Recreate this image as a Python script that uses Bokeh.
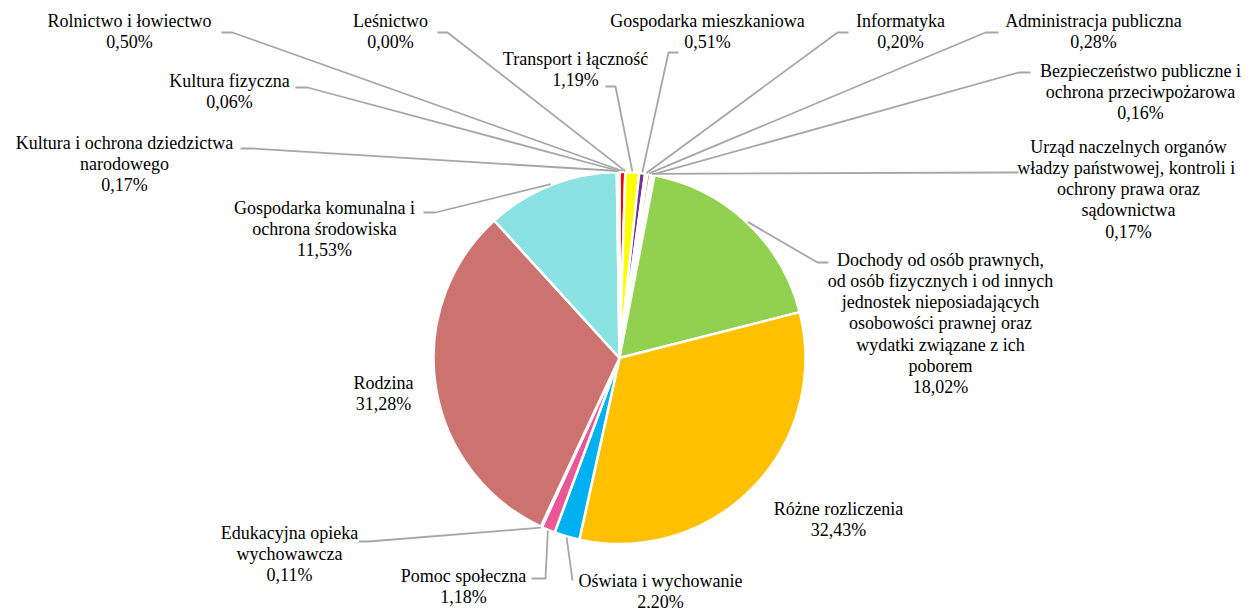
import math
from bokeh.plotting import figure
from bokeh.models import ColumnDataSource, Range1d
from bokeh.embed import file_html
from bokeh.resources import INLINE
from bokeh.core.properties import value

# ---------------- data ----------------
categories = [
    "Rolnictwo i łowiectwo",
    "Leśnictwo",
    "Transport i łączność",
    "Gospodarka mieszkaniowa",
    "Informatyka",
    "Administracja publiczna",
    "Urząd naczelnych organów\nwładzy państwowej,  kontroli i\nochrony prawa oraz\nsądownictwa",
    "Bezpieczeństwo publiczne i\nochrona przeciwpożarowa",
    "Dochody od osób prawnych,\nod osób fizycznych i od innych\njednostek nieposiadających\nosobowości prawnej oraz\nwydatki związane z ich\npoborem",
    "Różne rozliczenia",
    "Oświata i wychowanie",
    "Pomoc społeczna",
    "Edukacyjna opieka\nwychowawcza",
    "Rodzina",
    "Gospodarka komunalna i\nochrona środowiska",
    "Kultura i ochrona dziedzictwa\nnarodowego",
    "Kultura fizyczna",
]
shares = [0.50, 0.00, 1.19, 0.51, 0.20, 0.28, 0.17, 0.16, 18.02, 32.43,
          2.20, 1.18, 0.11, 31.28, 11.53, 0.17, 0.06]
colors = ["#FF0000", "#A5A5A5", "#FFFF00", "#7030A0", "#4472C4", "#ED7D31",
          "#A5A5A5", "#5B9BD5", "#92D050", "#FFC000", "#00B0F0", "#E95796",
          "#C00000", "#CC7370", "#8AE2E2", "#264478", "#9E480E"]

# ---------------- layout (screen pixel coordinates) ----------------
W, H = 1250, 608
CX, CY, R = 619, 357.5, 186
LINE_H = 21.3
# label block centre x, first-line centre y
label_x = [129, 390, 575, 707, 900, 1093, 1128, 1140, 940, 838, 660, 463, 289, 383, 324, 124, 229]
label_y = [20, 20, 58, 20, 20, 20, 146, 70, 259, 508, 580, 575, 532, 382, 207, 142, 80]
# leader start (x, y) and horizontal elbow length; None = no leader
leader = [
    (221, 32, 11), (437, 32, 10), (605, 86, 10), (678, 52, -10), (848, 32, -11),
    (998, 32, -13), (1018, 172, -12), (1030, 72, -12), (828, 262, -11), None,
    (572, 580, 0), (531, 578, 14), (358, 541, 10), None, (423, 212, 12),
    (240, 148, 12), (295, 87, 12),
]


def px(x):
    return x


def py(y):
    return H - y


p = figure(width=W, height=H, output_backend="svg", toolbar_location=None,
           x_range=Range1d(0, W), y_range=Range1d(0, H),
           x_axis_type=None, y_axis_type=None, min_border=0)
p.grid.visible = False
p.outline_line_color = None
p.background_fill_color = "white"
p.border_fill_color = "white"

total = sum(shares)
starts, ends, mids = [], [], []
cum = 0.0
for v in shares:
    a0 = math.pi / 2 - 2 * math.pi * cum / total
    cum += v
    a1 = math.pi / 2 - 2 * math.pi * cum / total
    starts.append(a0)
    ends.append(a1)
    mids.append((a0 + a1) / 2)

idx = [i for i, v in enumerate(shares) if v > 0]
wsrc = ColumnDataSource(dict(
    x=[px(CX)] * len(idx), y=[py(CY)] * len(idx),
    start=[starts[i] for i in idx], end=[ends[i] for i in idx],
    color=[colors[i] for i in idx],
))
p.wedge(x="x", y="y", radius=R, start_angle="start", end_angle="end",
        direction="clock", fill_color="color", line_color="white",
        line_width=2.5, source=wsrc)

# leader lines
xs, ys = [], []
for i, ld in enumerate(leader):
    if ld is None:
        continue
    sx, sy, dx = ld
    ex = CX + (R + 1) * math.cos(mids[i])
    ey = CY - (R + 1) * math.sin(mids[i])
    xs.append([px(sx), px(sx + dx), px(ex)])
    ys.append([py(sy), py(sy), py(ey)])
p.multi_line(xs=xs, ys=ys, line_color="#A6A6A6", line_width=1.8)

# labels
tx, ty, tt = [], [], []
for i, name in enumerate(categories):
    lines = name.split("\n") + [f"{shares[i]:.2f}".replace(".", ",") + "%"]
    for k, ln in enumerate(lines):
        tx.append(px(label_x[i]))
        ty.append(py(label_y[i] + k * LINE_H))
        tt.append(ln)
tsrc = ColumnDataSource(dict(x=tx, y=ty, text=tt))
p.text(x="x", y="y", text="text", source=tsrc, text_align="center",
       text_baseline="middle", text_font=value("Liberation Serif"),
       text_font_size="18px", text_color="black")

open("out.html", "w").write(file_html(p, INLINE))
